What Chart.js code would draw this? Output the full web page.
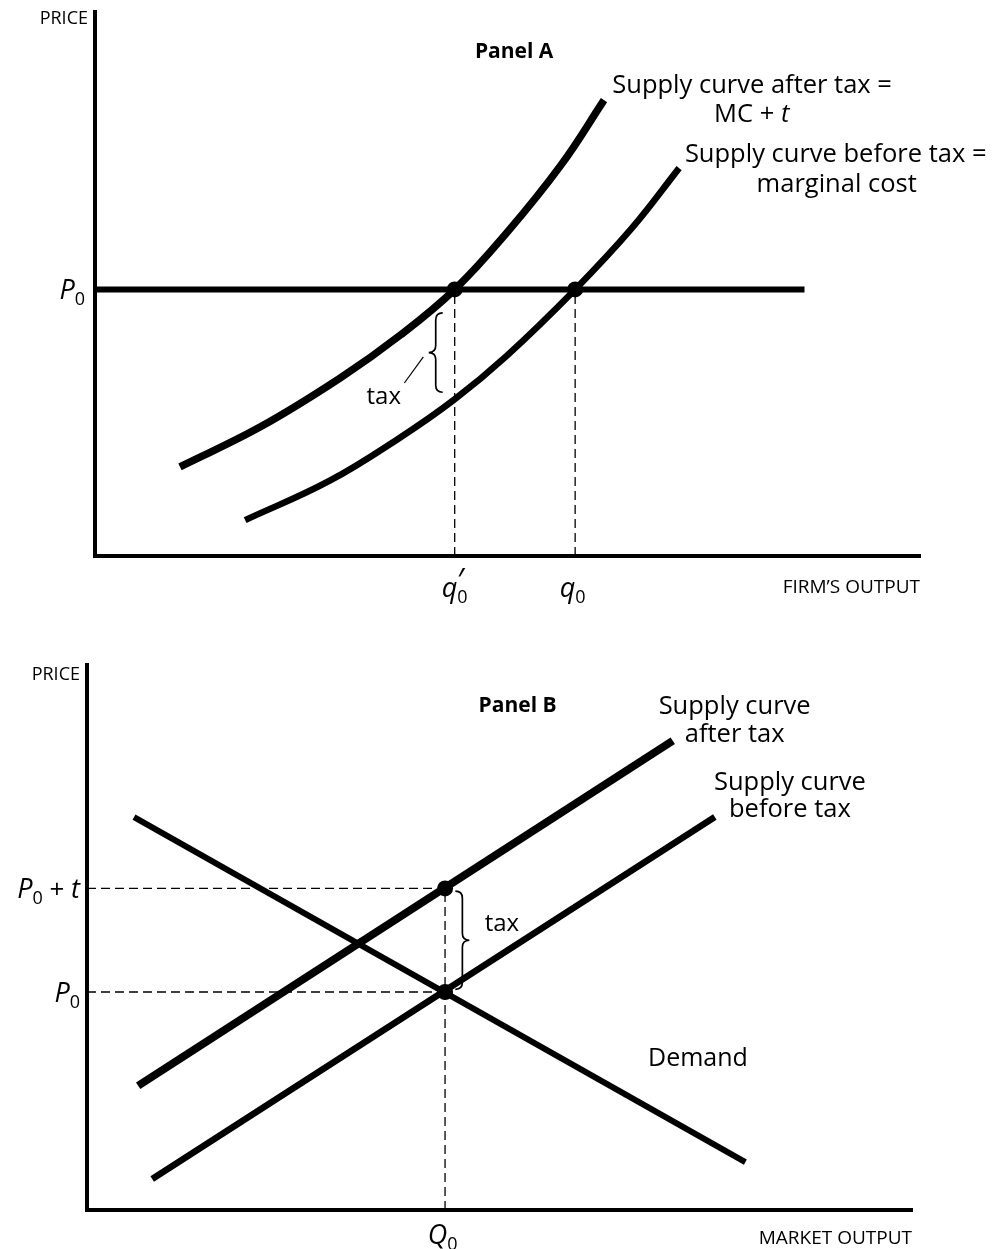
<!DOCTYPE html>
<html>
<head>
<meta charset="utf-8">
<script src="https://cdn.jsdelivr.net/npm/chart.js@4.4.1/dist/chart.umd.min.js"></script>
<style>
  html, body { margin: 0; padding: 0; background: #fff; }
  #wrap { position: relative; width: 1007px; height: 1249px; }
  canvas { position: absolute; left: 0; }
  #panelA { top: 0; }
  #panelB { top: 620px; }
</style>
</head>
<body>
<div id="wrap">
  <canvas id="panelA" width="1007" height="620"></canvas>
  <canvas id="panelB" width="1007" height="629"></canvas>
</div>
<script>
// --- Panel A: the firm (axes 0..10) ---
const afterTaxQ = [1.03, 2.00, 2.97, 3.70, 4.36, 4.99, 5.65, 6.17];
const afterTaxP = [1.64, 2.37, 3.27, 4.06, 4.90, 5.94, 7.19, 8.38];
const beforeTaxQ = [1.82, 2.84, 3.70, 4.35, 4.99, 5.82, 6.51, 7.08];
const beforeTaxP = [0.66, 1.38, 2.18, 2.87, 3.68, 4.90, 6.03, 7.13];
const firmPrice = 4.9;       // P0
const priceLineEnd = 8.6;
const qTaxed = 4.36;         // q0'
const qNoTax = 5.82;         // q0

// --- Panel B: the market ---
const demandQ = [0.57, 7.98];
const demandP = [7.21, 0.88];
const supplyTaxQ = [0.62, 7.10];
const supplyTaxP = [2.28, 8.61];
const supplyQ = [0.79, 7.61];
const supplyP = [0.57, 7.21];
const marketQ = 4.34;        // Q0
const marketP = 4.0;         // P0
const buyerP = 5.9;          // P0 + t

const FONT = "'Open Sans', 'DejaVu Sans', sans-serif";
const pts = (xs, ys) => xs.map((v, i) => ({ x: v, y: ys[i] }));

// --- text helpers (subscripts, italics) ---
function fontOf(p) {
  return `${p.italic ? "italic " : ""}${p.bold ? "bold " : ""}${p.size}px ${FONT}`;
}

function drawRich(ctx, parts, x, y, align) {
  let w = 0;
  parts.forEach(p => {
    ctx.font = fontOf(p);
    p.w = ctx.measureText(p.t).width;
    if (!p.stack) w += p.w;
  });
  let cx = align === "right" ? x - w : align === "center" ? x - w / 2 : x;
  const base = y + parts[0].size * 0.36;
  ctx.textAlign = "left";
  ctx.textBaseline = "alphabetic";
  let prevX = cx;
  parts.forEach(p => {
    ctx.font = fontOf(p);
    const at = p.stack ? prevX + (p.dx || 0) : cx + (p.dx || 0);
    ctx.fillText(p.t, at, base + (p.dy || 0));
    if (!p.stack) { prevX = cx; cx += p.w; }
  });
}

function drawBrace(ctx, x, y1, y2, dir, w) {
  const ym = (y1 + y2) / 2, r = 7, e = -dir * w / 2, tip = dir * w / 2;
  ctx.beginPath();
  ctx.moveTo(x + e, y1);
  ctx.quadraticCurveTo(x, y1, x, y1 + r);
  ctx.lineTo(x, ym - r);
  ctx.quadraticCurveTo(x, ym, x + tip, ym);
  ctx.quadraticCurveTo(x, ym, x, ym + r);
  ctx.lineTo(x, y2 - r);
  ctx.quadraticCurveTo(x, y2, x + e, y2);
  ctx.stroke();
}

const notesPlugin = {
  id: "notes",
  afterDraw(chart, args, opts) {
    const { ctx, scales: { x, y } } = chart;
    const px = v => x.getPixelForValue(v);
    const py = v => y.getPixelForValue(v);
    ctx.save();
    ctx.fillStyle = "#000";
    ctx.strokeStyle = "#000";
    ctx.lineWidth = 1.7;
    (opts.braces || []).forEach(b => drawBrace(ctx, px(b.x), py(b.top), py(b.bottom), b.dir, 14));
    (opts.leaders || []).forEach(l => {
      ctx.lineWidth = 1.2;
      ctx.beginPath();
      ctx.moveTo(px(l.x1), py(l.y1));
      ctx.lineTo(px(l.x2), py(l.y2));
      ctx.stroke();
    });
    (opts.texts || []).forEach(t => drawRich(ctx, t.parts, px(t.x), py(t.y), t.align || "left"));
    ctx.restore();
  }
};

function plain(t, size) { return [{ t, size }]; }
const P0 = [{ t: "P", size: 27, italic: true }, { t: "0", size: 18, dy: 6 }];

function axisOptions() {
  return {
    type: "linear", min: 0, max: 10,
    grid: { display: false, drawTicks: false },
    ticks: { display: false },
    border: { display: true, width: 4, color: "#000" }
  };
}

function makeOptions(padding, notes) {
  return {
    responsive: false,
    animation: false,
    devicePixelRatio: 1,
    layout: { padding },
    plugins: { legend: { display: false }, tooltip: { enabled: false }, notes },
    scales: { x: axisOptions(), y: axisOptions() }
  };
}

const solid = (data, width) => ({
  data, showLine: true, borderColor: "#000", borderWidth: width,
  pointRadius: 0, tension: 0.4
});
const dashed = data => ({
  data, showLine: true, borderColor: "#000", borderWidth: 1.3,
  borderDash: [9, 5], pointRadius: 0
});
const dots = data => ({
  data, showLine: false, pointRadius: 8, pointBackgroundColor: "#000", pointBorderWidth: 0
});

// --- Panel A ---
new Chart(document.getElementById("panelA"), {
  type: "scatter",
  data: {
    datasets: [
      dots([{ x: qTaxed, y: firmPrice }, { x: qNoTax, y: firmPrice }]),
      solid([{ x: 0, y: firmPrice }, { x: priceLineEnd, y: firmPrice }], 6),
      solid(pts(afterTaxQ, afterTaxP), 7.5),
      solid(pts(beforeTaxQ, beforeTaxP), 6.5),
      dashed([{ x: qTaxed, y: 0 }, { x: qTaxed, y: firmPrice }]),
      dashed([{ x: qNoTax, y: 0 }, { x: qNoTax, y: firmPrice }])
    ]
  },
  options: makeOptions({ left: 95, right: 87, top: 12, bottom: 64 }, {
    braces: [{ x: 4.13, top: 4.47, bottom: 3.01, dir: -1 }],
    leaders: [{ x1: 3.75, y1: 3.18, x2: 3.98, y2: 3.66 }],
    texts: [
      { x: -0.085, y: 9.89, align: "right", parts: plain("PRICE", 18) },
      { x: 5.08, y: 9.30, align: "center", parts: [{ t: "Panel A", size: 21, bold: true }] },
      { x: 6.27, y: 8.68, parts: plain("Supply curve after tax =", 25.5) },
      { x: 7.96, y: 8.14, align: "center", parts: [{ t: "MC + ", size: 25.5 }, { t: "t", size: 25.5, italic: true }] },
      { x: 7.15, y: 7.41, parts: plain("Supply curve before tax =", 25.5) },
      { x: 8.99, y: 6.86, align: "center", parts: plain("marginal cost", 25.5) },
      { x: -0.12, y: firmPrice, align: "right", parts: P0 },
      { x: 3.50, y: 2.96, align: "center", parts: plain("tax", 24) },
      { x: qTaxed, y: -0.58, align: "center", parts: [
        { t: "q", size: 27, italic: true }, { t: "0", size: 18, dy: 6 },
        { t: "\u2032", size: 32, dy: -5, stack: true, dx: 0 }] },
      { x: qNoTax - 0.03, y: -0.58, align: "center", parts: [
        { t: "q", size: 27, italic: true }, { t: "0", size: 18, dy: 6 }] },
      { x: 10, y: -0.55, align: "right", parts: plain("FIRM\u2019S OUTPUT", 19) }
    ]
  }),
  plugins: [notesPlugin]
});

// --- Panel B ---
new Chart(document.getElementById("panelB"), {
  type: "scatter",
  data: {
    datasets: [
      dots([{ x: marketQ, y: buyerP }, { x: marketQ, y: marketP }]),
      solid(pts(supplyTaxQ, supplyTaxP), 8),
      solid(pts(supplyQ, supplyP), 6.5),
      solid(pts(demandQ, demandP), 6),
      dashed([{ x: 0, y: buyerP }, { x: marketQ, y: buyerP }]),
      dashed([{ x: 0, y: marketP }, { x: marketQ, y: marketP }]),
      dashed([{ x: marketQ, y: 0 }, { x: marketQ, y: buyerP }])
    ]
  },
  options: makeOptions({ left: 87, right: 95, top: 45, bottom: 39 }, {
    braces: [{ x: 4.55, top: buyerP - 0.05, bottom: marketP + 0.05, dir: 1 }],
    texts: [
      { x: -0.085, y: 9.85, align: "right", parts: plain("PRICE", 18) },
      { x: 5.22, y: 9.28, align: "center", parts: [{ t: "Panel B", size: 21, bold: true }] },
      { x: 7.85, y: 9.27, align: "center", parts: plain("Supply curve", 25.5) },
      { x: 7.85, y: 8.75, align: "center", parts: plain("after tax", 25.5) },
      { x: 8.52, y: 7.87, align: "center", parts: plain("Supply curve", 25.5) },
      { x: 8.52, y: 7.38, align: "center", parts: plain("before tax", 25.5) },
      { x: 6.80, y: 2.81, parts: plain("Demand", 25) },
      { x: 4.82, y: 5.27, parts: plain("tax", 24) },
      { x: -0.085, y: buyerP, align: "right", parts: [
        { t: "P", size: 27, italic: true }, { t: "0", size: 18, dy: 6 },
        { t: " + ", size: 26 }, { t: "t", size: 27, italic: true }] },
      { x: -0.085, y: marketP, align: "right", parts: P0 },
      { x: marketQ - 0.03, y: -0.44, align: "center", parts: [
        { t: "Q", size: 27, italic: true }, { t: "0", size: 18, dy: 6 }] },
      { x: 10, y: -0.5, align: "right", parts: plain("MARKET OUTPUT", 19) }
    ]
  }),
  plugins: [notesPlugin]
});
</script>
</body>
</html>
